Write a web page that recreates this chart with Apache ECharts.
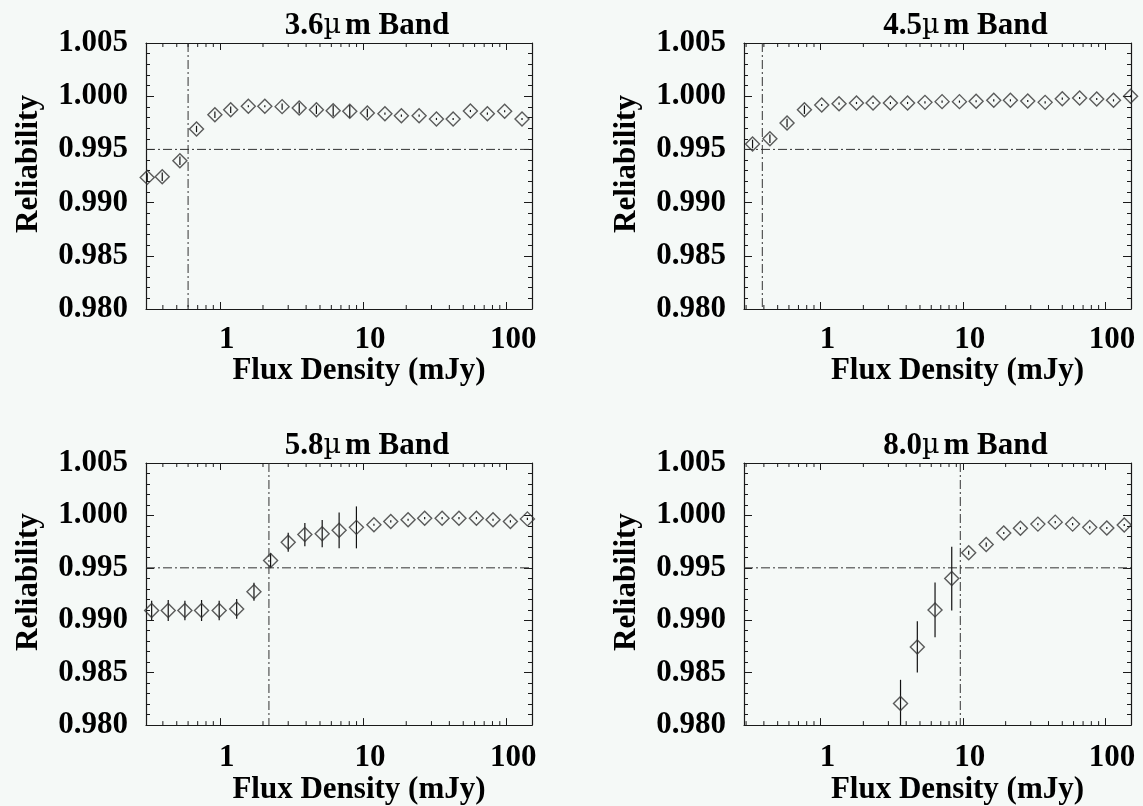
<!DOCTYPE html>
<html><head><meta charset="utf-8">
<script src="https://cdn.jsdelivr.net/npm/echarts@6/dist/echarts.min.js"></script>
<style>html,body{margin:0;padding:0;background:#f5f9f7}#c{width:1143px;height:806px}</style>
</head><body><div id="c"></div><script>
// ---- data ----
const bandNames = ['3.6', '4.5', '5.8', '8.0'];

const flux36 = [0.311, 0.396, 0.526, 0.687, 0.923, 1.19, 1.58, 2.06, 2.72, 3.58, 4.72, 6.18, 8.07, 10.7, 14.2, 18.5, 24.6, 32.5, 42.5, 56.1, 73.7, 97.3, 128.6];
const rel36  = [0.99237, 0.99244, 0.99394, 0.99692, 0.99826, 0.99873, 0.99905, 0.99905, 0.99902, 0.99889, 0.99873, 0.99864, 0.99858, 0.99842, 0.99836, 0.99817, 0.99817, 0.99786, 0.99786, 0.99861, 0.99836, 0.99858, 0.99786];
const err36  = [0.0004, 0.0004, 0.0004, 0.0003, 0.0003, 0.0003, 0.0001, 0.0001, 0.0003, 0.0005, 0.0004, 0.0005, 0.0006, 0.0004, 0.0001, 0.0001, 0.0001, 0.0001, 0.0001, 0.0001, 0.0001, 0.0001, 0.0001];

const flux45 = [0.333, 0.441, 0.582, 0.771, 1.02, 1.35, 1.79, 2.34, 3.10, 4.09, 5.42, 7.15, 9.47, 12.4, 16.5, 21.6, 28.6, 37.9, 50.0, 66.2, 87.3, 114.5, 151];
const rel45  = [0.99551, 0.99601, 0.99748, 0.99873, 0.99917, 0.99930, 0.99936, 0.99936, 0.99936, 0.99936, 0.99942, 0.99949, 0.99949, 0.99952, 0.99961, 0.99961, 0.99955, 0.99942, 0.99977, 0.99983, 0.99974, 0.99961, 0.99999];
const err45  = [0.0004, 0.0004, 0.0004, 0.0004, 0.0001, 0.0001, 0.0001, 0.0001, 0.0001, 0.0001, 0.0001, 0.0001, 0.0001, 0.0001, 0.0001, 0.0001, 0.0001, 0.0001, 0.0001, 0.0001, 0.0001, 0.0001, 0.0001];

const flux58 = [0.334, 0.436, 0.570, 0.745, 0.989, 1.31, 1.73, 2.26, 3.00, 3.92, 5.18, 6.80, 8.98, 11.9, 15.6, 20.6, 26.9, 35.6, 46.7, 61.8, 80.7, 106.7, 140.2];
const rel58  = [0.99093, 0.99093, 0.99093, 0.99093, 0.99093, 0.99108, 0.99272, 0.99571, 0.99744, 0.99817, 0.99826, 0.99858, 0.99886, 0.99911, 0.99943, 0.99958, 0.99974, 0.99974, 0.99974, 0.99974, 0.99958, 0.99943, 0.99967];
const err58  = [0.00094, 0.0010, 0.00094, 0.0010, 0.00094, 0.00094, 0.00085, 0.0007, 0.0009, 0.0011, 0.0013, 0.0017, 0.0020, 0.0001, 0.0001, 0.0001, 0.0001, 0.0001, 0.0001, 0.0001, 0.0001, 0.0001, 0.0001];

const flux80 = [3.65, 4.79, 6.38, 8.36, 11.0, 14.6, 19.4, 25.4, 33.7, 44.6, 59.1, 78.0, 102.8, 136.2];
const rel80  = [0.98205, 0.98746, 0.99099, 0.99398, 0.99644, 0.99722, 0.99832, 0.99877, 0.99917, 0.99936, 0.99917, 0.99886, 0.99880, 0.99908];
const err80  = [0.00227, 0.00244, 0.0026, 0.00304, 0.0002, 0.0002, 0.0001, 0.0001, 0.0001, 0.0001, 0.0001, 0.0001, 0.0001, 0.0001];

const fluxCuts = [0.60, 0.39, 2.2, 9.6];
const relThreshold = 0.995;
const xMinorTicks = [0.3, 0.4, 0.5, 0.6, 0.7, 0.8, 0.9, 2, 3, 4, 5, 6, 7, 8, 9, 20, 30, 40, 50, 60, 70, 80, 90];
const yMin = 0.980, yMax = 1.005, yStep = 0.005;
const xRanges = [[0.305, 151], [0.29, 152], [0.305, 151], [0.29, 152]];

// ---- build chart ----
const panels = [
  {flux: flux36, rel: rel36, err: err36},
  {flux: flux45, rel: rel45, err: err45},
  {flux: flux58, rel: rel58, err: err58},
  {flux: flux80, rel: rel80, err: err80}
];
const grids = [
  {left: 146, top: 43, width: 386, height: 266},
  {left: 744, top: 43, width: 387, height: 266},
  {left: 146, top: 463, width: 386, height: 265},
  {left: 744, top: 463, width: 387, height: 265}
];
const FONT = 'Liberation Serif, Times New Roman, serif';
const FS = 31;
const INK = '#1a1a1a';
const axisLineStyle = {color: INK, width: 1.2};
const DASHDOT = [9, 3, 2, 3];

const xAxes = [], yAxes = [], series = [], graphics = [];
panels.forEach((p, i) => {
  const row = i < 2 ? 0 : 1;
  xAxes.push({type: 'log', logBase: 10, gridIndex: i, min: xRanges[i][0], max: xRanges[i][1], position: 'bottom',
    splitLine: {show: false}, axisLine: {show: true, lineStyle: axisLineStyle},
    axisTick: {show: true, inside: true, length: 7, lineStyle: {color: INK}},
    name: 'Flux Density (mJy)', nameLocation: 'middle', nameGap: 45 + row * 2,
    nameTextStyle: {fontFamily: FONT, fontWeight: 'bold', fontSize: FS, color: '#000', padding: [0, 0, 0, 40]},
    axisLabel: {show: true, margin: 15 + row * 2, fontFamily: FONT, fontWeight: 'bold', fontSize: FS, color: '#000',
      padding: [0, 0, 0, 14],
      showMinLabel: false, showMaxLabel: false, formatter: v => String(Math.round(v))}});
  yAxes.push({type: 'value', gridIndex: i, min: yMin, max: yMax, interval: yStep, position: 'left',
    splitLine: {show: false}, axisLine: {show: true, lineStyle: axisLineStyle},
    axisTick: {show: true, inside: true, length: 8, lineStyle: {color: INK}},
    minorTick: {show: true, splitNumber: 5, length: 4, lineStyle: {color: INK}},
    name: 'Reliability', nameLocation: 'middle', nameRotate: 90, nameGap: 102,
    nameTextStyle: {fontFamily: FONT, fontWeight: 'bold', fontSize: FS, color: '#000', padding: [0, 0, 0, 24]},
    axisLabel: {show: true, margin: 18, fontFamily: FONT, fontWeight: 'bold', fontSize: FS, color: '#000',
      formatter: v => v.toFixed(3)}});
});
panels.forEach((p, i) => {
  xAxes.push({type: 'log', logBase: 10, gridIndex: i, min: xRanges[i][0], max: xRanges[i][1], position: 'top',
    splitLine: {show: false}, axisLine: {show: true, lineStyle: axisLineStyle},
    axisTick: {show: true, inside: true, length: 7, lineStyle: {color: INK}}, axisLabel: {show: false}});
  yAxes.push({type: 'value', gridIndex: i, min: yMin, max: yMax, interval: yStep, position: 'right',
    splitLine: {show: false}, axisLine: {show: true, lineStyle: axisLineStyle},
    axisTick: {show: true, inside: true, length: 8, lineStyle: {color: INK}},
    minorTick: {show: true, splitNumber: 5, length: 4, lineStyle: {color: INK}}, axisLabel: {show: false}});
});

panels.forEach((p, i) => {
  // reference lines: horizontal at threshold, vertical at flux cut
  series.push({type: 'custom', xAxisIndex: i, yAxisIndex: i, silent: true, z: 2,
    data: [[fluxCuts[i], relThreshold]],
    renderItem: (params, api) => {
      const cs = params.coordSys;
      const pt = api.coord([api.value(0), api.value(1)]);
      const st = {stroke: '#333', lineWidth: 1, lineDash: DASHDOT};
      return {type: 'group', children: [
        {type: 'line', shape: {x1: cs.x, y1: pt[1], x2: cs.x + cs.width, y2: pt[1]}, style: st},
        {type: 'line', shape: {x1: pt[0], y1: cs.y, x2: pt[0], y2: cs.y + cs.height}, style: st}
      ]};
    }});
  // error bars
  series.push({type: 'custom', xAxisIndex: i, yAxisIndex: i, clip: true, silent: true, z: 3,
    data: p.flux.map((x, k) => [x, p.rel[k] - p.err[k], p.rel[k] + p.err[k]]),
    renderItem: (params, api) => {
      const a = api.coord([api.value(0), api.value(1)]);
      const b = api.coord([api.value(0), api.value(2)]);
      return {type: 'line', shape: {x1: a[0], y1: a[1], x2: b[0], y2: b[1]},
        style: {stroke: '#111', lineWidth: 1.2}};
    }});
  // diamonds
  series.push({type: 'scatter', xAxisIndex: i, yAxisIndex: i, symbol: 'diamond', symbolSize: [14, 14],
    clip: false, z: 4,
    itemStyle: {color: 'rgba(0,0,0,0)', borderColor: '#333', borderWidth: 1.4},
    data: p.flux.map((x, k) => [x, p.rel[k]])});
  // x minor ticks (bottom and top)
  series.push({type: 'custom', xAxisIndex: i, yAxisIndex: i, silent: true, z: 2,
    data: xMinorTicks.map(v => [v]),
    renderItem: (params, api) => {
      const cs = params.coordSys;
      const x = api.coord([api.value(0), yMin])[0];
      if (x < cs.x + 0.5 || x > cs.x + cs.width - 0.5) return null;
      return {type: 'group', children: [
        {type: 'line', shape: {x1: x, y1: cs.y + cs.height, x2: x, y2: cs.y + cs.height - 4}, style: {stroke: INK, lineWidth: 1}},
        {type: 'line', shape: {x1: x, y1: cs.y, x2: x, y2: cs.y + 4}, style: {stroke: INK, lineWidth: 1}}
      ]};
    }});
  // panel title
  const g = grids[i];
  graphics.push({type: 'text', x: g.left + g.width / 2 + 28, y: g.top - 17,
    style: {text: '{a|' + bandNames[i] + '}{b|µ}{a|m Band}', textAlign: 'center', textVerticalAlign: 'middle',
      rich: {a: {fontFamily: FONT, fontWeight: 'bold', fontSize: FS, fill: '#000'},
             b: {fontFamily: 'DejaVu Serif, serif', fontWeight: 'normal', fontSize: 27, fill: '#000', padding: [0, 4, 0, 0]}}}});
});

const chart = echarts.init(document.getElementById('c'));
chart.setOption({
  backgroundColor: '#f5f9f7',
  animation: false,
  grid: grids.map(g => Object.assign({containLabel: false}, g)),
  xAxis: xAxes,
  yAxis: yAxes,
  series: series,
  graphic: graphics
});
</script></body></html>
